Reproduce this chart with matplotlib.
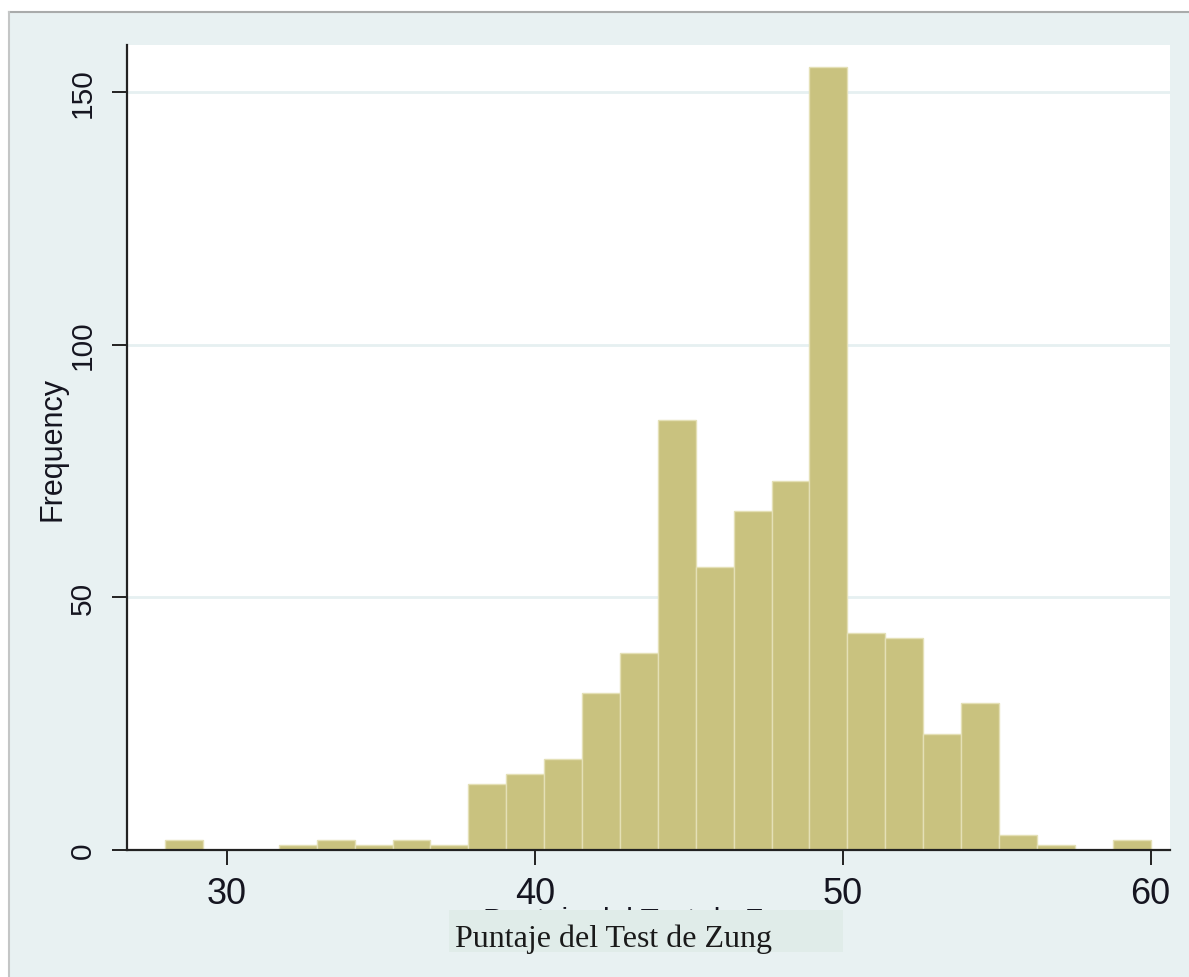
import numpy as np
import matplotlib
matplotlib.use("Agg")
import matplotlib.pyplot as plt
from matplotlib.patches import Rectangle
from matplotlib.lines import Line2D

# Puntaje del Test de Zung: 26 bins entre 28 y 60
bin_start = 28
bin_end = 60
frecuencias = [2, 0, 0, 1, 2, 1, 2, 1, 13, 15, 18, 31, 39, 85,
               56, 67, 73, 155, 43, 42, 23, 29, 3, 1, 0, 2]
x_ticks = [30, 40, 50, 60]
y_ticks = [0, 50, 100, 150]

bordes = np.linspace(bin_start, bin_end, len(frecuencias) + 1)
ancho = bordes[1] - bordes[0]

fondo = "#E8F1F2"
barra = "#C9C27F"
texto = "#151520"
sans = ["Liberation Sans", "DejaVu Sans"]
narrow = ["Liberation Sans Narrow", "Liberation Sans", "DejaVu Sans"]

W, H = 1189, 978
fig = plt.figure(figsize=(W / 100, H / 100), dpi=100, facecolor="white")

# marco exterior de la figura
fig.patches.append(Rectangle((9 / W, 0), 1, 1 - 13 / H, transform=fig.transFigure,
                             facecolor=fondo, edgecolor="none", zorder=-10))
fig.lines.append(Line2D([8.5 / W, 1], [1 - 13 / H, 1 - 13 / H], transform=fig.transFigure,
                        color="#A9ABAB", lw=1.5))
fig.lines.append(Line2D([8.5 / W, 8.5 / W], [0, 1 - 13 / H], transform=fig.transFigure,
                        color="#C4C6C6", lw=1.5))

ax = fig.add_axes([127 / W, 1 - 851 / H, (1170 - 127) / W, (851 - 46) / H])
ax.set_facecolor("white")

ax.bar(bordes[:-1], frecuencias, width=ancho, align="edge", color=barra,
       edgecolor="#E4E0B6", linewidth=1, zorder=3)

ax.set_xlim(26.76, 60.63)
ax.set_ylim(0, 159.3)
ax.set_xticks(x_ticks)
ax.set_yticks(y_ticks)
ax.yaxis.grid(True, color="#E6F0F1", linewidth=2, zorder=0)
ax.set_axisbelow(True)

for s in ["top", "right"]:
    ax.spines[s].set_visible(False)
for s in ["left", "bottom"]:
    ax.spines[s].set_linewidth(1.6)
    ax.spines[s].set_color("#222222")
    ax.spines[s].set_zorder(5)

ax.tick_params(axis="both", direction="out", length=11, width=1.4, color="#222222")
ax.tick_params(axis="x", pad=8, labelsize=26, labelcolor=texto)
ax.tick_params(axis="y", pad=11, labelsize=21.5, labelcolor=texto, labelrotation=90)
for lab in ax.get_xticklabels():
    lab.set_fontfamily(narrow)
for lab in ax.get_yticklabels():
    lab.set_fontfamily(sans)
    lab.set_va("center")

ax.set_ylabel("Frequency", fontsize=22, family=sans, color=texto)
ax.yaxis.set_label_coords(-(127 - 68) / (1170 - 127), 0.5)

# etiqueta original (tapada casi por completo)
fig.text(648 / W, 1 - 907 / H, "Puntaje del Test de Zung", ha="center", va="top",
         fontsize=21.5, family=sans, color=texto)
# recuadro con la etiqueta nueva
fig.patches.append(Rectangle((449 / W, 1 - 953 / H), (843 - 449) / W, (953 - 911) / H,
                             transform=fig.transFigure, facecolor="#E0ECE9",
                             edgecolor="none", zorder=5))
fig.text(455 / W, 1 - 947 / H, "Puntaje del Test de Zung", ha="left", va="baseline",
         fontsize=23, family=["Liberation Serif", "DejaVu Serif"], color="#1A1A1A",
         zorder=6)

fig.savefig("out.png", dpi=100, facecolor="white")
